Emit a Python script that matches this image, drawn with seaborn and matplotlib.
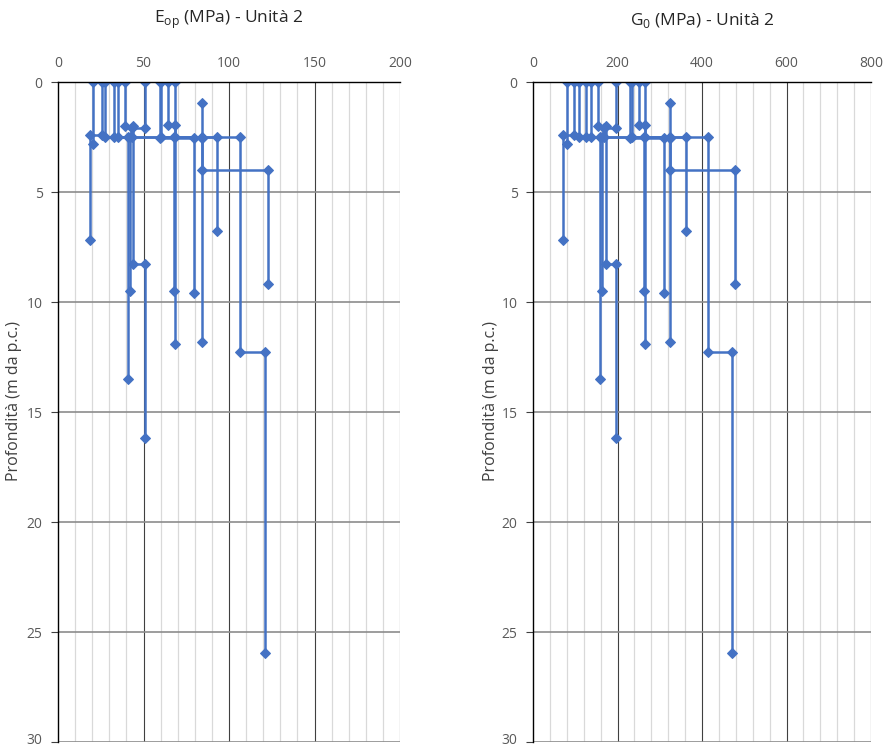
import matplotlib
matplotlib.use("Agg")
import matplotlib.pyplot as plt
import seaborn as sns
import pandas as pd
import numpy as np
from matplotlib.ticker import MultipleLocator
from matplotlib.transforms import ScaledTranslation

sns.set_style("white")
plt.rcParams['font.family'] = ['Open Sans', 'DejaVu Sans']

# ---- data: each profile = top depth, layer values, layer bottom depths ----
series_ids = ["P1", "P2", "P3", "P4", "P5", "P6", "P7", "P8", "P9", "P10", "P11", "P12"]
top_depth = [0, 0, 0, 0, 0, 0, 0, 0, 0, 0, 0, 0.95]
bottoms = [
    [2.8],
    [2.4, 7.2],
    [2.5, 13.5],
    [2.5, 9.48],
    [2.5, 12.29, 25.94],
    [2.0, 8.27, 16.2],
    [2.1, 2.5, 9.48],
    [2.55, 9.6],
    [2.5, 6.77],
    [1.95, 11.9],
    [2.5, 4.0, 9.2],
    [2.55, 11.8],
]
eop_values = [
    [20.7],
    [25.6, 18.6],
    [27.7, 41.2],
    [32.6, 42.3],
    [34.9, 106.6, 121.2],
    [39.3, 43.7, 50.9],
    [50.7, 43.0, 67.6],
    [59.7, 79.7],
    [60.5, 92.8],
    [64.4, 68.3],
    [68.5, 84.0, 123.0],
    [84.0, 84.3],
]
g0_values = [
    [80.0],
    [98.0, 71.0],
    [109.6, 158.6],
    [125.4, 162.6],
    [137.3, 415.0, 471.0],
    [153.1, 172.0, 196.4],
    [196.4, 167.0, 263.5],
    [229.6, 310.0],
    [234.3, 361.0],
    [250.9, 265.0],
    [265.9, 325.0, 478.9],
    [324.0, 325.0],
]
eop_ticks = [0, 50, 100, 150, 200]
g0_ticks = [0, 200, 400, 600, 800]
depth_ticks = [0, 5, 10, 15, 20, 25, 30]


def step_frame(values):
    rows = []
    for sid, t, vals, bots in zip(series_ids, top_depth, values, bottoms):
        prev = t
        order = 0
        for v, b in zip(vals, bots):
            rows.append((sid, order, v, prev)); order += 1
            rows.append((sid, order, v, b)); order += 1
            prev = b
    return pd.DataFrame(rows, columns=["series", "order", "value", "depth"])


BLUE = "#4472C4"
fig = plt.figure(figsize=(8.89, 7.49), dpi=100)
ax1 = fig.add_axes([58 / 889, 1 - 742 / 749, 342 / 889, 660 / 749])
ax2 = fig.add_axes([533 / 889, 1 - 742 / 749, 338 / 889, 660 / 749])

panels = [
    (ax1, eop_values, eop_ticks, 10, r"E$_{\mathregular{op}}$ (MPa) - Unità 2", -0.105),
    (ax2, g0_values, g0_ticks, 40, r"G$_{\mathregular{0}}$ (MPa) - Unità 2", -0.101),
]

for ax, vals, xt, minor, title, lx in panels:
    df = step_frame(vals)
    sns.lineplot(data=df, x="value", y="depth", units="series", estimator=None,
                 sort=False, color=BLUE, lw=1.8, marker="D", markersize=5.5,
                 markeredgecolor=BLUE, ax=ax, legend=False)
    ax.set_xlim(xt[0], xt[-1])
    ax.set_ylim(30, 0)
    ax.set_xticks(xt)
    ax.set_yticks(depth_ticks)
    ax.xaxis.set_minor_locator(MultipleLocator(minor))
    ax.xaxis.tick_top()
    ax.tick_params(axis="x", which="both", length=0, pad=8, labelsize=10, labelcolor="#595959")
    ax.tick_params(axis="y", length=5, width=0.8, color="#404040", direction="out",
                   labelsize=10, labelcolor="#595959", pad=6, left=True)
    ax.grid(False)
    ax.set_axisbelow(True)
    for v in np.arange(xt[0], xt[-1] + minor / 2, minor):
        if v in xt:
            continue
        ax.axvline(v, color="#d9d9d9", lw=0.9, zorder=0)
    for v in xt[1:]:
        ax.axvline(v, color="#404040", lw=0.8, zorder=0)
    for d in depth_ticks[1:]:
        ax.axhline(d, color="#8c8c8c", lw=1.2, zorder=0)
    for s in ["right", "bottom"]:
        ax.spines[s].set_visible(False)
    ax.spines["top"].set_color("#000000")
    ax.spines["left"].set_color("#000000")
    ax.spines["top"].set_linewidth(1.0)
    ax.spines["left"].set_linewidth(1.0)
    ax.set_xlabel("")
    ax.set_ylabel("Profondità (m da p.c.)", fontsize=11.5, color="#404040")
    ax.yaxis.set_label_coords(lx, 0.517)
    # keep the bottom tick label inside the canvas
    last = ax.get_yticklabels()[-1]
    last.set_va("baseline")
    last.set_transform(last.get_transform() + ScaledTranslation(0, -0.025, fig.dpi_scale_trans))
    pos = ax.get_position()
    fig.text(pos.x0 + pos.width / 2, 1 - 20 / 749, title, ha="center", va="center",
             fontsize=12.5, color="#262626")

fig.savefig("out.png", dpi=100)
